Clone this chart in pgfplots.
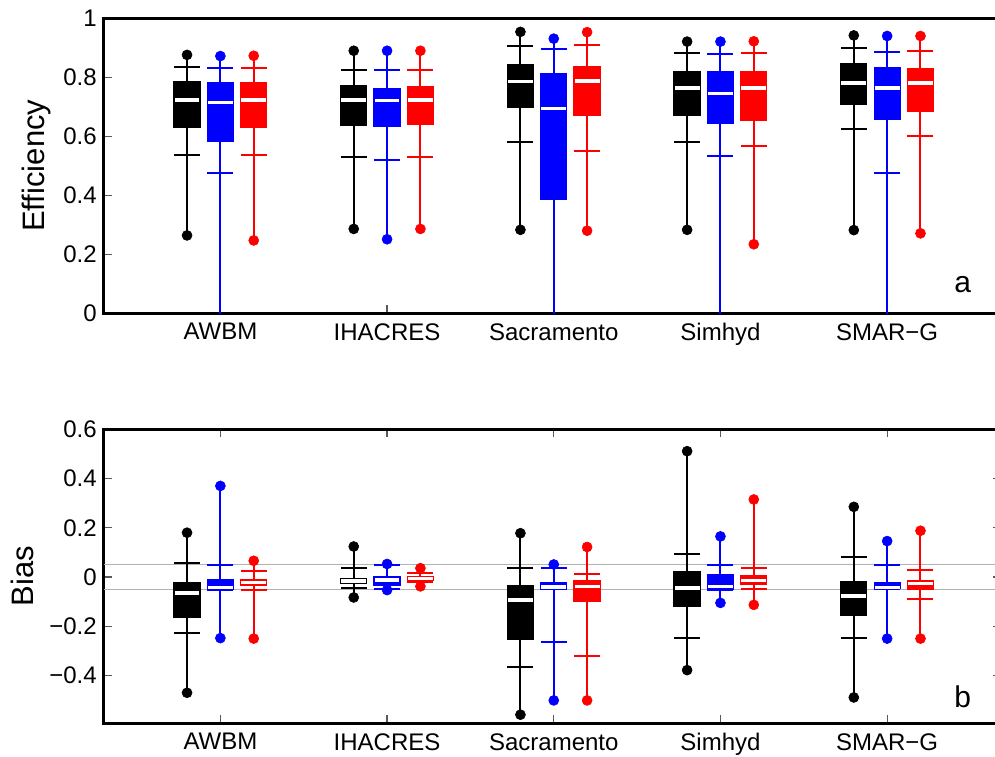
\documentclass[border=0pt]{standalone}
\usepackage{pgfplots}
\pgfplotsset{compat=1.18}
\usepackage{pgfplotstable}
\usepackage{fontspec}
\setmainfont{Liberation Sans}

% columns: x, min, lower cap, lower quartile, median, upper quartile, upper cap, max
\pgfplotstableread{
x mn lo qa md qb hi mx
0.8 0.264 0.537 0.627 0.723 0.787 0.836 0.876
1.8 0.286 0.529 0.635 0.723 0.774 0.825 0.890
2.8 0.283 0.582 0.695 0.786 0.845 0.907 0.954
3.8 0.283 0.582 0.669 0.763 0.822 0.883 0.921
4.8 0.282 0.624 0.706 0.781 0.847 0.898 0.942
}\EffK
\pgfplotstableread{
x mn lo qa md qb hi mx
1.0 -0.300 0.475 0.581 0.715 0.783 0.833 0.872
2.0 0.251 0.519 0.633 0.721 0.765 0.825 0.890
3.0 -0.500 -0.100 0.384 0.695 0.814 0.896 0.931
4.0 -0.300 0.534 0.642 0.745 0.820 0.878 0.921
5.0 -0.300 0.477 0.655 0.763 0.834 0.887 0.940
}\EffB
\pgfplotstableread{
x mn lo qa md qb hi mx
1.2 0.247 0.536 0.627 0.723 0.783 0.833 0.873
2.2 0.286 0.529 0.637 0.723 0.772 0.825 0.890
3.2 0.280 0.551 0.669 0.787 0.839 0.910 0.953
4.2 0.234 0.567 0.653 0.763 0.821 0.881 0.922
5.2 0.271 0.602 0.683 0.780 0.831 0.890 0.940
}\EffR
\pgfplotstableread{
x mn lo qa md qb hi mx
0.8 -0.470 -0.227 -0.166 -0.065 -0.020 0.057 0.180
1.8 -0.083 -0.043 -0.028 -0.016 -0.004 0.036 0.124
2.8 -0.559 -0.367 -0.254 -0.094 -0.034 0.036 0.178
3.8 -0.378 -0.247 -0.122 -0.045 0.023 0.095 0.511
4.8 -0.489 -0.246 -0.159 -0.077 -0.016 0.080 0.285
}\BiasK
\pgfplotstableread{
x mn lo qa md qb hi mx
1.0 -0.248 -0.053 -0.053 -0.042 -0.009 0.049 0.370
2.0 -0.053 -0.049 -0.035 -0.013 0.006 0.049 0.053
3.0 -0.501 -0.262 -0.051 -0.040 -0.020 0.038 0.051
4.0 -0.105 -0.053 -0.053 -0.038 0.011 0.049 0.165
5.0 -0.250 -0.050 -0.050 -0.042 -0.020 0.047 0.146
}\BiasB
\pgfplotstableread{
x mn lo qa md qb hi mx
1.2 -0.250 -0.051 -0.035 -0.023 -0.009 0.023 0.066
2.2 -0.038 -0.022 -0.016 -0.005 0.003 0.018 0.036
3.2 -0.501 -0.321 -0.101 -0.038 -0.011 0.011 0.122
4.2 -0.113 -0.050 -0.034 -0.015 0.007 0.036 0.315
5.2 -0.250 -0.088 -0.051 -0.027 -0.011 0.027 0.188
}\BiasR

\definecolor{mblue}{RGB}{0,0,255}
\definecolor{mred}{RGB}{255,0,0}

% #1 table, #2 colour, #3 y domain for the end dots
\newcommand{\boxseries}[3]{%
 \addplot[draw=none, mark=none, error bars/.cd, y dir=minus, y explicit, error mark=none,
   error bar style={line width=1pt, draw=#2}]
   table[x=x, y=mx, y error minus expr=\thisrow{mx}-\thisrow{mn}] {#1};
 \addplot[#2, only marks, mark=-, mark size=6.5pt, mark options={line width=1pt}] table[x=x, y=hi] {#1};
 \addplot[#2, only marks, mark=-, mark size=6.5pt, mark options={line width=1pt}] table[x=x, y=lo] {#1};
 \addplot[draw=none, mark=none, error bars/.cd, y dir=plus, y explicit, error mark=none,
   error bar style={line width=13.65pt, draw=#2}]
   table[x=x, y=qa, y error plus expr=\thisrow{qb}-\thisrow{qa}] {#1};
 \addplot[white, only marks, mark=-, mark size=6.2pt, mark options={line width=1.75pt}] table[x=x, y=md] {#1};
 \addplot[#2, only marks, mark=*, mark size=2.5pt, mark options={line width=0.3pt}, restrict y to domain=#3] table[x=x, y=mx] {#1};
 \addplot[#2, only marks, mark=*, mark size=2.5pt, mark options={line width=0.3pt}, restrict y to domain=#3] table[x=x, y=mn] {#1};
}

\pgfplotsset{
  myaxis/.style={
    scale only axis, width=448.4pt, anchor=south west,
    xmin=0.3, xmax=5.68,
    xtick={1,2,3,4,5},
    xticklabels={AWBM,IHACRES,Sacramento,Simhyd,SMAR−G},
    tick align=inside,
    major tick length=4pt,
    tick style={line width=0.6pt, black!65},
    axis line style={line width=1.3pt},
    tick label style={font=\fontsize{12}{14}\selectfont},
    xticklabel style={yshift=-1.5pt},
    label style={font=\fontsize{15.5}{18}\selectfont},
    clip=true,
  }
}

\begin{document}
\begin{tikzpicture}
\useasboundingbox (0,0) rectangle (497.5pt,378pt);

\begin{axis}[myaxis, at={(51.85pt,221.35pt)}, height=147.5pt,
  ymin=0, ymax=1, ytick={0,0.2,0.4,0.6,0.8,1},
  yticklabels={0,0.2,0.4,0.6,0.8,1},
  xtick pos=left, ytick pos=left,
  ylabel={Efficiency},
  ylabel style={at={(axis description cs:-0.0744,0.5)}, anchor=center, rotate=0},
]
\boxseries{\EffK}{black}{0:1}
\boxseries{\EffB}{mblue}{0:1}
\boxseries{\EffR}{mred}{0:1}
\node[font=\fontsize{15}{18}\selectfont] at (axis description cs:0.958,0.096) {a};
\end{axis}

\begin{axis}[myaxis, at={(51.85pt,16.35pt)}, height=147pt,
  ymin=-0.594, ymax=0.6, ytick={-0.4,-0.2,0,0.2,0.4,0.6},
  yticklabels={−0.4,−0.2,0,0.2,0.4,0.6},
  xtick pos=both, ytick pos=both,
  ylabel={Bias},
  ylabel style={at={(axis description cs:-0.0911,0.5)}, anchor=center, rotate=0},
]
\addplot[black!30, line width=0.6pt, forget plot] coordinates {(0.3,0.05) (5.68,0.05)};
\addplot[black!30, line width=0.6pt, forget plot] coordinates {(0.3,-0.05) (5.68,-0.05)};
\boxseries{\BiasK}{black}{-1:1}
\boxseries{\BiasB}{mblue}{-1:1}
\boxseries{\BiasR}{mred}{-1:1}
\node[font=\fontsize{15}{18}\selectfont] at (axis description cs:0.958,0.089) {b};
\end{axis}
\end{tikzpicture}
\end{document}
